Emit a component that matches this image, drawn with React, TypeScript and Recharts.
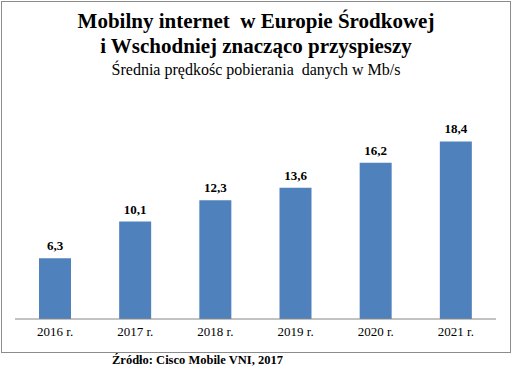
import React from "react";
import { BarChart, Bar, XAxis, YAxis, LabelList } from "recharts";

const years = ["2016 r.", "2017 r.", "2018 r.", "2019 r.", "2020 r.", "2021 r."];
const speeds = [6.3, 10.1, 12.3, 13.6, 16.2, 18.4];
const titleLines = ["Mobilny internet  w Europie Środkowej", "i Wschodniej znacząco przyspieszy"];
const subtitle = "Średnia prędkośc pobierania  danych w Mb/s";
const sourceText = "Źródło: Cisco Mobile VNI, 2017";

const data = years.map((y, i) => ({ year: y, value: speeds[i] }));

const serif = '"Liberation Serif", "Times New Roman", serif';

export default function App() {
  return (
    <div style={{ position: "absolute", left: 0, top: 0, width: 512, height: 375, background: "#fff", fontFamily: serif }}>
      <div style={{ position: "absolute", left: 1, top: 1, width: 508, height: 350, border: "1px solid #8c8c8c" }} />
      <div style={{ position: "absolute", left: 0, top: 9, width: 512, textAlign: "center", fontWeight: "bold", fontSize: 21, lineHeight: "25px", color: "#000", whiteSpace: "pre" }}>
        <div>{titleLines[0]}</div>
        <div>{titleLines[1]}</div>
      </div>
      <div style={{ position: "absolute", left: 0, top: 60, width: 512, textAlign: "center", fontSize: 16, lineHeight: "19px", color: "#000", whiteSpace: "pre" }}>
        {subtitle}
      </div>
      <div style={{ position: "absolute", left: 0, top: 0 }}>
        <BarChart width={512} height={375} data={data} margin={{ top: 126, right: 16, left: 15, bottom: 26 }}>
          <YAxis hide domain={[0, 20]} />
          <XAxis
            dataKey="year"
            tickLine={false}
            axisLine={{ stroke: "#868686" }}
            tick={{ fill: "#000", fontSize: 13, fontFamily: serif }}
            interval={0}
          />
          <Bar dataKey="value" fill="#4F81BD" barSize={32} isAnimationActive={false}>
            <LabelList
              dataKey="value"
              position="top"
              offset={8}
              formatter={(v: any) => String(v).replace(".", ",")}
              style={{ fill: "#000", fontWeight: "bold", fontSize: 13, fontFamily: serif }}
            />
          </Bar>
        </BarChart>
      </div>
      <div style={{ position: "absolute", left: 112, top: 352, fontWeight: "bold", fontSize: 12.5, lineHeight: "16px", color: "#000", whiteSpace: "nowrap" }}>
        {sourceText}
      </div>
    </div>
  );
}
